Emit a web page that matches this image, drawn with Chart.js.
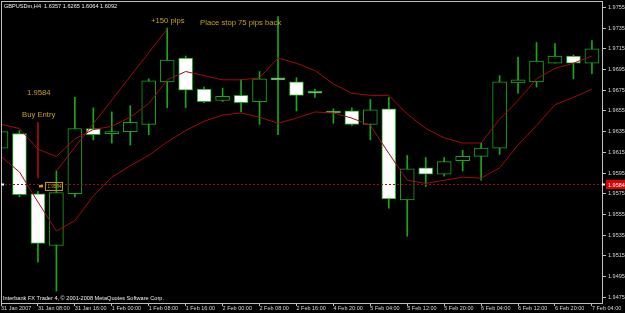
<!DOCTYPE html>
<html>
<head>
<meta charset="utf-8">
<script src="https://cdn.jsdelivr.net/npm/chart.js@4/dist/chart.umd.min.js"></script>
<style>
  html, body { margin: 0; padding: 0; background: #000; }
  #wrap { width: 625px; height: 313px; }
</style>
</head>
<body>
<div id="wrap"><canvas id="chart"></canvas></div>
<script>
// H4 candles, GBPUSDm
const times = ['31 Jan 2007', '31 Jan 04:00', '31 Jan 08:00', '31 Jan 12:00', '31 Jan 16:00', '31 Jan 20:00',
    '1 Feb 00:00', '1 Feb 04:00', '1 Feb 08:00', '1 Feb 12:00', '1 Feb 16:00', '1 Feb 20:00',
    '2 Feb 00:00', '2 Feb 04:00', '2 Feb 08:00', '2 Feb 12:00', '2 Feb 16:00', '2 Feb 20:00',
    '4 Feb 20:00', '5 Feb 00:00', '5 Feb 04:00', '5 Feb 08:00', '5 Feb 12:00', '5 Feb 16:00', '5 Feb 20:00',
    '6 Feb 00:00', '6 Feb 04:00', '6 Feb 08:00', '6 Feb 12:00', '6 Feb 16:00', '6 Feb 20:00',
    '7 Feb 00:00', '7 Feb 04:00'];
const opens  = [1.9619, 1.9633, 1.9575, 1.9525, 1.9575, 1.9638, 1.9633, 1.9635, 1.9642, 1.9683, 1.9706, 1.9676,
    1.9665, 1.9670, 1.9664, 1.9687, 1.9683, 1.9672, 1.9654, 1.9655, 1.9642, 1.9657, 1.9569, 1.9600, 1.9594,
    1.9607, 1.9611, 1.9619, 1.9682, 1.9683, 1.9701, 1.9708, 1.9701];
const highs  = [1.9639, 1.9636, 1.9577, 1.9597, 1.9668, 1.9658, 1.9654, 1.9660, 1.9686, 1.9735, 1.9708, 1.9678,
    1.9677, 1.9685, 1.9693, 1.9746, 1.9687, 1.9676, 1.9657, 1.9658, 1.9666, 1.9668, 1.9612, 1.9610, 1.9610,
    1.9617, 1.9624, 1.9689, 1.9707, 1.9721, 1.9720, 1.9709, 1.9723];
const lows   = [1.9617, 1.9572, 1.9509, 1.9481, 1.9572, 1.9627, 1.9624, 1.9622, 1.9632, 1.9658, 1.9658, 1.9663,
    1.9664, 1.9654, 1.9642, 1.9632, 1.9655, 1.9668, 1.9643, 1.9641, 1.9627, 1.9561, 1.9534, 1.9582, 1.9592,
    1.9597, 1.9588, 1.9613, 1.9672, 1.9678, 1.9701, 1.9686, 1.9691];
const closes = [1.9635, 1.9574, 1.9527, 1.9576, 1.9638, 1.9632, 1.9635, 1.9644, 1.9684, 1.9704, 1.9675, 1.9664,
    1.9669, 1.9663, 1.9686, 1.9685, 1.9670, 1.9672, 1.9653, 1.9642, 1.9656, 1.9570, 1.9599, 1.9594, 1.9606,
    1.9611, 1.9619, 1.9683, 1.9685, 1.9703, 1.9708, 1.9701, 1.9715];

// indicator lines
const maFast = [1.9642, 1.9638, 1.9618, 1.9611, 1.9628, 1.9637, 1.9640, 1.9649, 1.9662, 1.9685, 1.9693, 1.9689,
    1.9685, 1.9685, 1.9687, 1.9706, 1.9701, 1.9694, 1.9681, 1.9672, 1.9670, 1.9670, 1.9652, 1.9638, 1.9629,
    1.9624, 1.9624, 1.9647, 1.9665, 1.9686, 1.9696, 1.9701, 1.9708];
const maSlow = [1.9611, 1.9596, 1.9567, 1.9539, 1.9549, 1.9573, 1.9591, 1.9602, 1.9612, 1.9625, 1.9636, 1.9645,
    1.9651, 1.9653, 1.9649, 1.9643, 1.9648, 1.9654, 1.9653, 1.9648, 1.9641, 1.9614, 1.9588, 1.9585, 1.9588,
    1.9591, 1.9590, 1.9600, 1.9622, 1.9641, 1.9661, 1.9668, 1.9676];

// drawn objects (candle index, price)
const trendLine = [[3, 1.9597], [9, 1.9734]];
const entryLine = [[2, 1.9644], [2, 1.9590]];
const currentPrice = 1.9584;
const entryPrice = 1.9584;

const yTicks = [1.9755, 1.9735, 1.9715, 1.9695, 1.9675, 1.9655, 1.9635, 1.9615, 1.9595, 1.9575,
    1.9555, 1.9535, 1.9515, 1.9495, 1.9475];
const xTickIdx = times.map((t, i) => i).filter(i => i % 2 === 0);

// text notes on the chart
const notes = [
    { text: '1.9584', at: [1.41, 1.9672] },
    { text: 'Buy Entry', at: [1.14, 1.9651] },
    { text: '+150 pips', at: [8.12, 1.97415] },
    { text: 'Place stop 75 pips back', at: [10.78, 1.97395] }
];

const green = '#19a819';
const maRed = '#a00c0c';
const frame = '#c0c0c0';
const axisText = '#d8d8d8';
const gold = '#c4a412';
const font = '"Liberation Sans", Arial, sans-serif';

const overlay = {
    id: 'overlay',
    afterDatasetsDraw(chart) {
        const { ctx, chartArea: a, scales: { x, y } } = chart;
        ctx.save();

        // current price line
        const py = Math.round(y.getPixelForValue(currentPrice)) + 0.5;
        ctx.strokeStyle = maRed;
        ctx.lineWidth = 1;
        ctx.setLineDash([2, 2]);
        ctx.beginPath();
        ctx.moveTo(a.left, py);
        ctx.lineTo(a.right, py);
        ctx.stroke();
        ctx.setLineDash([]);

        // frame
        ctx.strokeStyle = frame;
        ctx.strokeRect(a.left + 0.5, a.top + 0.5, a.right - a.left - 1, a.bottom - a.top);

        // notes
        ctx.fillStyle = gold;
        ctx.font = '7.7px ' + font;
        ctx.textBaseline = 'middle';
        ctx.textAlign = 'left';
        notes.forEach(n => {
            ctx.fillText(n.text, x.getPixelForValue(n.at[0]), y.getPixelForValue(n.at[1]));
        });

        // entry price label
        const ex = x.getPixelForValue(2.38);
        const ey = y.getPixelForValue(entryPrice) + 1.5;
        ctx.fillRect(ex - 6, ey - 1, 4, 2.5);
        ctx.strokeStyle = gold;
        ctx.strokeRect(ex + 0.5, ey - 3.5, 17, 8);
        ctx.font = '4.6px ' + font;
        ctx.fillText(entryPrice.toFixed(4), ex + 2.5, ey + 0.5);

        // price box on axis
        ctx.fillStyle = '#e00000';
        ctx.fillRect(a.right + 3, py - 4.5, 19, 9);
        ctx.fillStyle = '#ffffff';
        ctx.fillRect(a.right - 1, py - 1, 3, 2);
        ctx.fillRect(a.left, py - 1, 3, 2);
        ctx.font = '5.5px ' + font;
        ctx.fillText(currentPrice.toFixed(4), a.right + 5, py + 0.5);

        // title and copyright
        ctx.fillStyle = '#f0f0f0';
        ctx.font = '5.6px ' + font;
        ctx.fillText('GBPUSDm,H4  1.6357 1.6265 1.6064 1.6092', a.left + 3, a.top + 5);
        ctx.fillText('Interbank FX Trader 4, \u00a9 2001-2008 MetaQuotes Software Corp.', a.left + 2, a.bottom - 5);
        ctx.restore();
    }
};

const bodyData = opens.map((o, i) => ({ x: i, y: [o, closes[i]] }));
const wickData = lows.map((l, i) => ({ x: i, y: [l, highs[i]] }));
const bodyFill = opens.map((o, i) => closes[i] > o ? '#000000' : '#ffffff');
const toPoints = arr => arr.map((v, i) => ({ x: i, y: v }));
const pairPoints = arr => arr.map(p => ({ x: p[0], y: p[1] }));

const lineStyle = { type: 'line', borderColor: maRed, borderWidth: 1, pointRadius: 0, tension: 0, order: 0 };

new Chart(document.getElementById('chart'), {
    type: 'bar',
    data: {
        datasets: [
            Object.assign({ label: 'MA fast', data: toPoints(maFast) }, lineStyle),
            Object.assign({ label: 'MA slow', data: toPoints(maSlow) }, lineStyle),
            Object.assign({ label: 'trend', data: pairPoints(trendLine) }, lineStyle),
            Object.assign({ label: 'entry', data: pairPoints(entryLine) }, lineStyle),
            {
                label: 'body', data: bodyData, backgroundColor: bodyFill, borderColor: green,
                borderWidth: 1, borderSkipped: false, barThickness: 14, minBarLength: 2,
                grouped: false, order: 1
            },
            {
                label: 'wick', data: wickData, backgroundColor: green, barThickness: 1,
                grouped: false, order: 2
            }
        ]
    },
    options: {
        animation: false,
        responsive: true,
        maintainAspectRatio: false,
        layout: { padding: { left: 1, top: 1, right: 0, bottom: 0 } },
        plugins: { legend: { display: false }, tooltip: { enabled: false } },
        scales: {
            x: {
                type: 'linear', min: 0, max: 32.6, offset: false,
                grid: { drawOnChartArea: false, tickLength: 3, color: frame, offset: false },
                border: { display: false },
                ticks: {
                    autoSkip: false, maxRotation: 0, minRotation: 0, align: 'start', padding: -1,
                    color: axisText, font: { family: font, size: 5.5 },
                    callback: v => times[v]
                },
                afterBuildTicks: s => { s.ticks = xTickIdx.map(v => ({ value: v })); },
                afterFit: s => { s.height = 10; s.paddingLeft = 0; s.paddingRight = 0; }
            },
            y: {
                position: 'right', min: 1.94695, max: 1.97611,
                grid: { drawOnChartArea: false, tickLength: 3, color: frame },
                border: { display: false },
                ticks: {
                    padding: 2, color: axisText, font: { family: font, size: 5.5 },
                    callback: v => v.toFixed(4)
                },
                afterBuildTicks: s => { s.ticks = yTicks.map(v => ({ value: v })); },
                afterFit: s => { s.width = 22; s.paddingTop = 0; s.paddingBottom = 0; }
            }
        }
    },
    plugins: [overlay]
});
</script>
</body>
</html>
